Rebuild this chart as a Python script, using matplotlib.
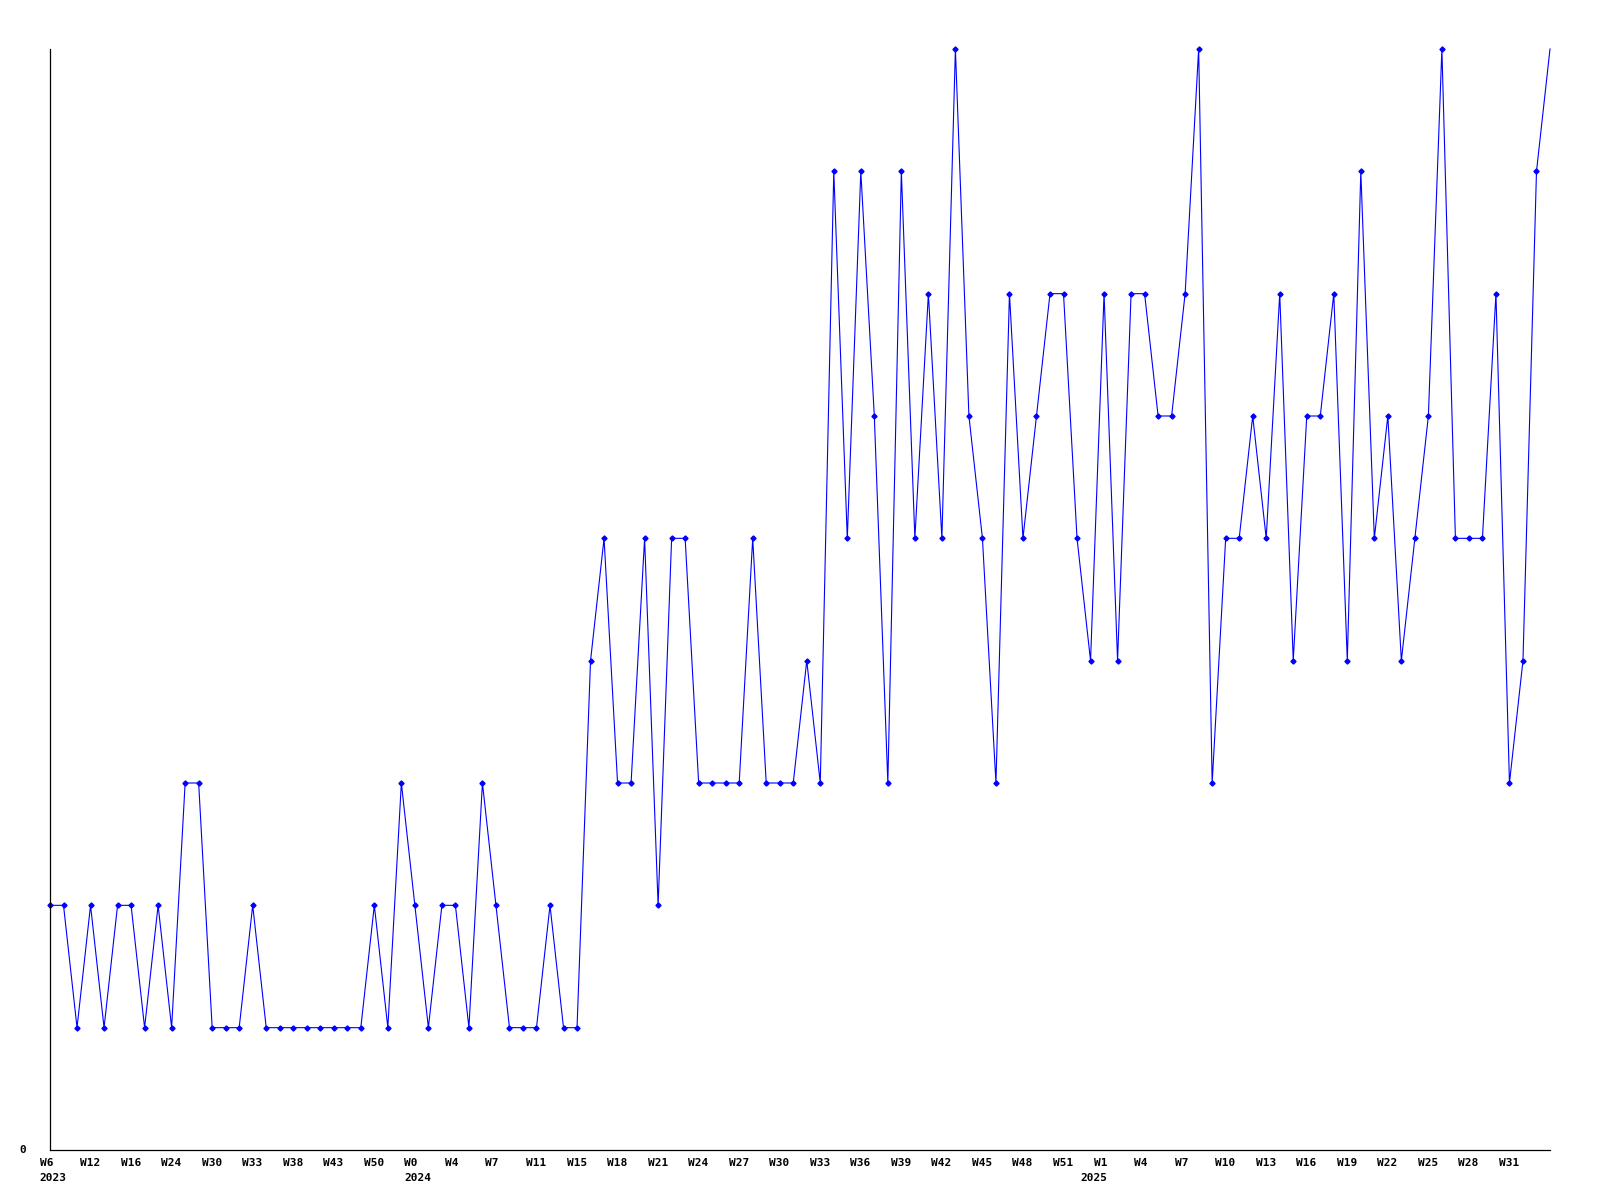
import matplotlib
matplotlib.use("Agg")
import matplotlib.pyplot as plt
import matplotlib.transforms as mtransforms

# weekly counts, one point per week (some early weeks missing)
counts = [2, 2, 1, 2, 1, 2, 2, 1, 2, 1,
          3, 3, 1, 1, 1, 2, 1, 1, 1, 1,
          1, 1, 1, 1, 2, 1, 3, 2, 1, 2,
          2, 1, 3, 2, 1, 1, 1, 2, 1, 1,
          4, 5, 3, 3, 5, 2, 5, 5, 3, 3,
          3, 3, 5, 3, 3, 3, 4, 3, 8, 5,
          8, 6, 3, 8, 5, 7, 5, 9, 6, 5,
          3, 7, 5, 6, 7, 7, 5, 4, 7, 4,
          7, 7, 6, 6, 7, 9, 3, 5, 5, 6,
          5, 7, 4, 6, 6, 7, 4, 8, 5, 6,
          4, 5, 6, 9, 5, 5, 5, 7, 3, 4,
          8, 9]

# a label on every third point
week_labels = ["W6", "W12", "W16", "W24", "W30", "W33", "W38", "W43", "W50",
               "W0", "W4", "W7", "W11", "W15", "W18", "W21", "W24", "W27",
               "W30", "W33", "W36", "W39", "W42", "W45", "W48", "W51",
               "W1", "W4", "W7", "W10", "W13", "W16", "W19", "W22", "W25",
               "W28", "W31"]
year_labels = ["2023", "2024", "2025"]
year_index = [0, 27, 77]

x = list(range(len(counts)))

fig = plt.figure(figsize=(16, 12), dpi=100)
ax = fig.add_axes([50 / 1600, 1 - 1150 / 1200, 1500 / 1600, 1101 / 1200])

ax.plot(x, counts, color="#0000ff", linewidth=0.8, marker="D", markersize=2.6,
        markevery=slice(0, len(counts) - 1), clip_on=False)

ax.set_xlim(0, len(counts) - 1)
ax.set_ylim(0, 9)
ax.set_xticks([])
ax.set_yticks([])
ax.spines["top"].set_visible(False)
ax.spines["right"].set_visible(False)
ax.spines["left"].set_linewidth(0.9)
ax.spines["bottom"].set_linewidth(0.9)

font = dict(family="DejaVu Sans Mono", fontweight="bold", fontsize=8)
blend = mtransforms.blended_transform_factory(ax.transData, ax.transAxes)

wk_tr = mtransforms.offset_copy(blend, fig=fig, x=-10.5, y=-16, units="dots")
for k, lab in enumerate(week_labels):
    ax.text(3 * k, 0, lab, transform=wk_tr, ha="left", va="baseline", **font)

yr_tr = mtransforms.offset_copy(blend, fig=fig, x=-10.5, y=-31, units="dots")
for idx, lab in zip(year_index, year_labels):
    ax.text(idx, 0, lab, transform=yr_tr, ha="left", va="baseline", **font)

zero_tr = mtransforms.offset_copy(ax.transData, fig=fig, x=-24, y=-3, units="dots")
ax.text(0, 0, "0", transform=zero_tr, ha="right", va="baseline", **font)

plt.savefig("out.png", dpi=100)
